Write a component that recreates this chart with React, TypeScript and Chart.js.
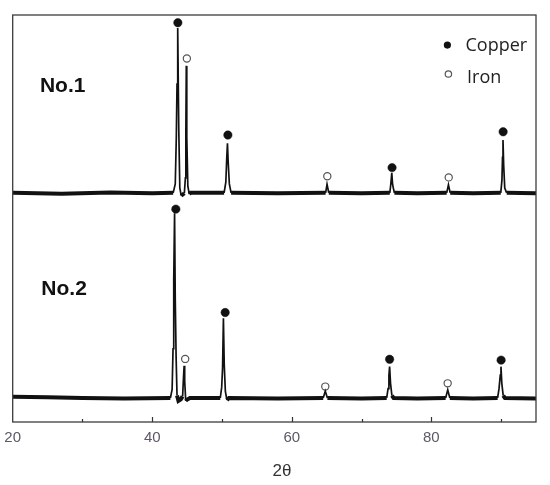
import React, { useEffect, useRef } from "react";
import { Chart, registerables } from "chart.js";

Chart.register(...registerables);

// ---- data (2θ in degrees, intensity in arbitrary units) ----
const no1X = [20, 27, 34, 40, 43.0, 43.3, 43.45, 43.55, 43.65, 43.8, 43.95, 44.15, 44.6, 44.75, 44.82, 44.88, 44.95, 45.1, 45.3, 45.5, 50.3, 50.55, 50.68, 50.78, 50.88, 51.05, 51.3, 58, 64.85, 65.05, 65.3, 70, 74.05, 74.2, 74.33, 74.45, 74.7, 78, 82.2, 82.45, 82.7, 86, 89.95, 90.12, 90.2, 90.27, 90.37, 90.52, 90.8, 95];
const no1Y = [56.3, 56.1, 56.4, 56.2, 56.3, 58.5, 70, 83, 96.8, 72, 57.5, 55.6, 56.2, 60, 72, 87.5, 70, 58, 56.0, 56.3, 56.3, 59, 65, 68.5, 64, 58.5, 56.3, 56.2, 56.3, 58.4, 56.3, 56.2, 56.3, 58.6, 61.2, 58.3, 56.3, 56.2, 56.3, 58.3, 56.3, 56.2, 56.3, 59.5, 65, 69.3, 63, 57.5, 56.3, 56.2];

const no2X = [20, 25, 30, 36, 42.6, 42.85, 42.98, 43.08, 43.2, 43.3, 43.42, 43.55, 43.75, 44.1, 44.35, 44.48, 44.57, 44.65, 44.8, 45.0, 45.4, 49.75, 49.95, 50.08, 50.2, 50.32, 50.48, 50.7, 51.0, 58, 64.5, 64.8, 65.1, 70, 73.6, 73.8, 73.92, 74.02, 74.15, 74.35, 74.6, 78, 82.05, 82.35, 82.65, 86, 89.5, 89.7, 89.88, 89.98, 90.1, 90.3, 90.55, 95];
const no2Y = [6.2, 6.1, 5.9, 5.8, 5.9, 8, 18, 35, 51.3, 30, 16, 6.5, 5.2, 5.6, 6.3, 11, 13.8, 10, 5.2, 5.5, 5.9, 5.9, 8.5, 13.3, 25.5, 14, 7.5, 5.4, 5.9, 5.8, 5.9, 7.6, 5.9, 5.8, 5.9, 8.2, 11.5, 13.6, 9.5, 6.5, 5.9, 5.8, 5.9, 7.9, 5.9, 5.8, 5.9, 8.2, 11.5, 13.6, 9.5, 6.5, 5.9, 5.8];

const no1Base = 56.3;
const no2Base = 5.9;

// peak markers
const copperX = [43.67, 50.84, 74.37, 90.29, 43.38, 50.45, 74.02, 90.0];
const copperY = [98.1, 70.5, 62.5, 71.3, 52.3, 26.9, 15.4, 15.2];
const ironX = [44.96, 65.09, 82.49, 44.72, 64.8, 82.34];
const ironY = [89.3, 60.4, 60.1, 15.5, 8.7, 9.5];

const xMin = 20;
const xMax = 95;
const majorTicks = [40, 60, 80];
const minorTicks = [30, 50, 70, 90];

const sampleLabels = ["No.1", "No.2"];
const legendLabels = ["Copper", "Iron"];
const xTitle = "2θ";

const toPts = (xs: number[], ys: number[]) => xs.map((x, i) => ({ x, y: ys[i] }));

export default function App() {
  const ref = useRef<HTMLCanvasElement | null>(null);

  useEffect(() => {
    if (!ref.current) return;
    const bases = [no1Base, no2Base];

    const decor = {
      id: "decor",
      afterDraw(chart: any) {
        const { ctx, chartArea: a, scales } = chart;
        const xs = scales.x;
        const ys = scales.y;
        ctx.save();
        // frame
        ctx.strokeStyle = "#3c3c3c";
        ctx.lineWidth = 1.3;
        ctx.strokeRect(a.left, a.top, a.right - a.left, a.bottom - a.top);
        // inside ticks
        ctx.lineWidth = 1.2;
        ctx.strokeStyle = "#333";
        majorTicks.forEach((v) => {
          const px = Math.round(xs.getPixelForValue(v)) + 0.5;
          ctx.beginPath();
          ctx.moveTo(px, a.bottom);
          ctx.lineTo(px, a.bottom - 5);
          ctx.stroke();
        });
        minorTicks.forEach((v) => {
          const px = Math.round(xs.getPixelForValue(v)) + 0.5;
          ctx.beginPath();
          ctx.moveTo(px, a.bottom);
          ctx.lineTo(px, a.bottom - 3);
          ctx.stroke();
        });
        // sample labels
        ctx.fillStyle = "#111";
        ctx.font = "bold 21px 'Liberation Sans', Arial, sans-serif";
        ctx.textAlign = "left";
        ctx.textBaseline = "middle";
        ctx.fillText(sampleLabels[0], xs.getPixelForValue(23.9), ys.getPixelForValue(82.6));
        ctx.fillText(sampleLabels[1], xs.getPixelForValue(24.1), ys.getPixelForValue(32.7));
        // legend
        const lx = xs.getPixelForValue(82.3);
        const tx = xs.getPixelForValue(84.9);
        const y1 = ys.getPixelForValue(92.6);
        const y2 = ys.getPixelForValue(85.5);
        ctx.fillStyle = "#111";
        ctx.beginPath();
        ctx.arc(lx, y1, 3.6, 0, Math.PI * 2);
        ctx.fill();
        ctx.strokeStyle = "#555";
        ctx.lineWidth = 1.2;
        ctx.fillStyle = "#fff";
        ctx.beginPath();
        ctx.arc(lx + 1, y2, 3.2, 0, Math.PI * 2);
        ctx.fill();
        ctx.stroke();
        ctx.fillStyle = "#222";
        ctx.font = "18px 'Open Sans', sans-serif";
        ctx.fillText(legendLabels[0], tx, y1 + 1);
        ctx.fillText(legendLabels[1], tx + 1.5, y2 + 4);
        // axis title
        ctx.fillStyle = "#333";
        ctx.font = "17px 'Liberation Sans', Arial, sans-serif";
        ctx.textAlign = "center";
        ctx.fillText(xTitle, xs.getPixelForValue(58.6), 471);
        ctx.restore();
      },
    };

    const chart = new Chart(ref.current, {
      type: "line",
      data: {
        datasets: [
          {
            data: toPts(no1X, no1Y),
            borderColor: "#111",
            borderWidth: 1.7,
            pointRadius: 0,
            tension: 0,
            segment: {
              borderWidth: (c: any) =>
                Math.abs(c.p0.parsed.y - bases[0]) < 1 && Math.abs(c.p1.parsed.y - bases[0]) < 1 ? 4 : 1.7,
            },
          } as any,
          {
            data: toPts(no2X, no2Y),
            borderColor: "#111",
            borderWidth: 1.7,
            pointRadius: 0,
            tension: 0,
            segment: {
              borderWidth: (c: any) =>
                Math.abs(c.p0.parsed.y - bases[1]) < 1.2 && Math.abs(c.p1.parsed.y - bases[1]) < 1.2 ? 4 : 1.7,
            },
          } as any,
          {
            data: toPts(copperX, copperY),
            showLine: false,
            pointRadius: 4.2,
            pointBackgroundColor: "#111",
            pointBorderColor: "#111",
            pointBorderWidth: 0.5,
          },
          {
            data: toPts(ironX, ironY),
            showLine: false,
            pointRadius: 3.6,
            pointBackgroundColor: "#fff",
            pointBorderColor: "#555",
            pointBorderWidth: 1.2,
          },
        ],
      },
      options: {
        animation: false,
        responsive: true,
        maintainAspectRatio: false,
        layout: { padding: { left: 12.7, right: 14, top: 15, bottom: 0 } },
        plugins: { legend: { display: false }, tooltip: { enabled: false } },
        scales: {
          x: {
            type: "linear",
            min: xMin,
            max: xMax,
            grid: { display: false, drawTicks: false },
            border: { display: false },
            ticks: {
              stepSize: 20,
              includeBounds: false,
              padding: 7,
              color: "#5d5866",
              font: { size: 15, family: "'Liberation Sans', Arial, sans-serif" },
            },
            afterFit: (s: any) => {
              s.height = 63;
              s.paddingLeft = 0;
              s.paddingRight = 0;
            },
          },
          y: {
            display: false,
            min: 0,
            max: 100,
          },
        },
      } as any,
      plugins: [decor],
    });
    return () => chart.destroy();
  }, []);

  return (
    <div style={{ position: "fixed", left: 0, top: 0, width: 550, height: 485, background: "#fff" }}>
      <canvas ref={ref} />
    </div>
  );
}
